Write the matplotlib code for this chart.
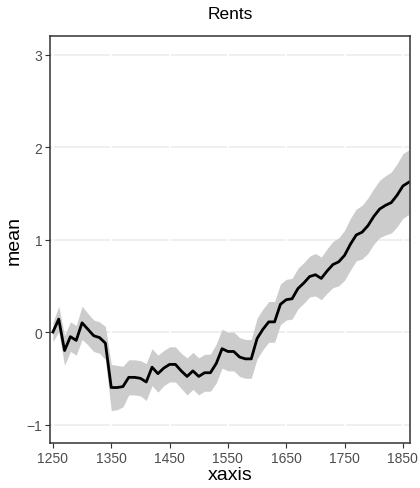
import matplotlib.pyplot as plt

plt.rcParams['font.family'] = ['Liberation Sans', 'DejaVu Sans']

years = list(range(1250, 1861, 10))
mean = [0.00, 0.14, -0.20, -0.05, -0.09, 0.10, 0.03, -0.04, -0.06, -0.12,
        -0.60, -0.60, -0.59, -0.49, -0.49, -0.50, -0.54, -0.38, -0.45, -0.39,
        -0.35, -0.35, -0.42, -0.48, -0.42, -0.48, -0.44, -0.44, -0.34, -0.18,
        -0.21, -0.21, -0.27, -0.29, -0.29, -0.07, 0.03, 0.11, 0.11, 0.30,
        0.35, 0.36, 0.47, 0.53, 0.60, 0.62, 0.58, 0.66, 0.73, 0.76,
        0.83, 0.95, 1.05, 1.08, 1.15, 1.25, 1.33, 1.37, 1.40, 1.48,
        1.58, 1.62]
lower = [-0.10, 0.00, -0.36, -0.21, -0.25, -0.08, -0.14, -0.21, -0.23, -0.30,
         -0.85, -0.84, -0.81, -0.68, -0.68, -0.69, -0.74, -0.58, -0.65, -0.58,
         -0.54, -0.54, -0.61, -0.68, -0.62, -0.68, -0.64, -0.64, -0.55, -0.39,
         -0.42, -0.42, -0.48, -0.50, -0.50, -0.29, -0.19, -0.11, -0.11, 0.08,
         0.13, 0.14, 0.25, 0.31, 0.38, 0.39, 0.35, 0.42, 0.48, 0.50,
         0.56, 0.67, 0.77, 0.79, 0.85, 0.95, 1.02, 1.05, 1.07, 1.14,
         1.23, 1.27]
upper = [0.10, 0.28, -0.04, 0.11, 0.07, 0.28, 0.20, 0.13, 0.11, 0.06,
         -0.35, -0.36, -0.37, -0.30, -0.30, -0.31, -0.34, -0.18, -0.25, -0.20,
         -0.16, -0.16, -0.23, -0.28, -0.22, -0.28, -0.24, -0.24, -0.13, 0.03,
         0.00, 0.00, -0.06, -0.08, -0.08, 0.15, 0.25, 0.33, 0.33, 0.52,
         0.57, 0.58, 0.69, 0.75, 0.82, 0.85, 0.81, 0.90, 0.98, 1.02,
         1.10, 1.23, 1.33, 1.37, 1.45, 1.55, 1.64, 1.69, 1.73, 1.82,
         1.93, 1.97]

xticks = [1250, 1350, 1450, 1550, 1650, 1750, 1850]
yticks = [-1, 0, 1, 2, 3]

fig = plt.figure(figsize=(4.2, 4.89), dpi=100)
ax = fig.add_axes([0.119, 0.092, 0.857, 0.832])

# grid: grey horizontal lines broken by white vertical ones
for y in yticks:
    ax.axhline(y, color='#EBEBEB', lw=1.1, zorder=0)
for x in xticks:
    ax.axvline(x, color='white', lw=1.3, zorder=0.5)

ax.fill_between(years, lower, upper, color='#CCCCCC', lw=0, zorder=1)
ax.plot(years, mean, color='black', lw=2.0, zorder=2)

ax.set_xlim(1245, 1862)
ax.set_ylim(-1.2, 3.2)
ax.set_xticks(xticks)
ax.set_yticks(yticks)
ax.tick_params(length=3.5, width=0.8, color='#333333', labelcolor='#4D4D4D',
               labelsize=10, pad=2)
for s in ax.spines.values():
    s.set_color('#333333')
    s.set_linewidth(1.1)

ax.set_xlabel('xaxis', fontsize=14, labelpad=1)
ax.set_ylabel('mean', fontsize=14, labelpad=3)
ax.set_title('Rents', fontsize=12.5, pad=13)

fig.savefig('out.png', dpi=100)
